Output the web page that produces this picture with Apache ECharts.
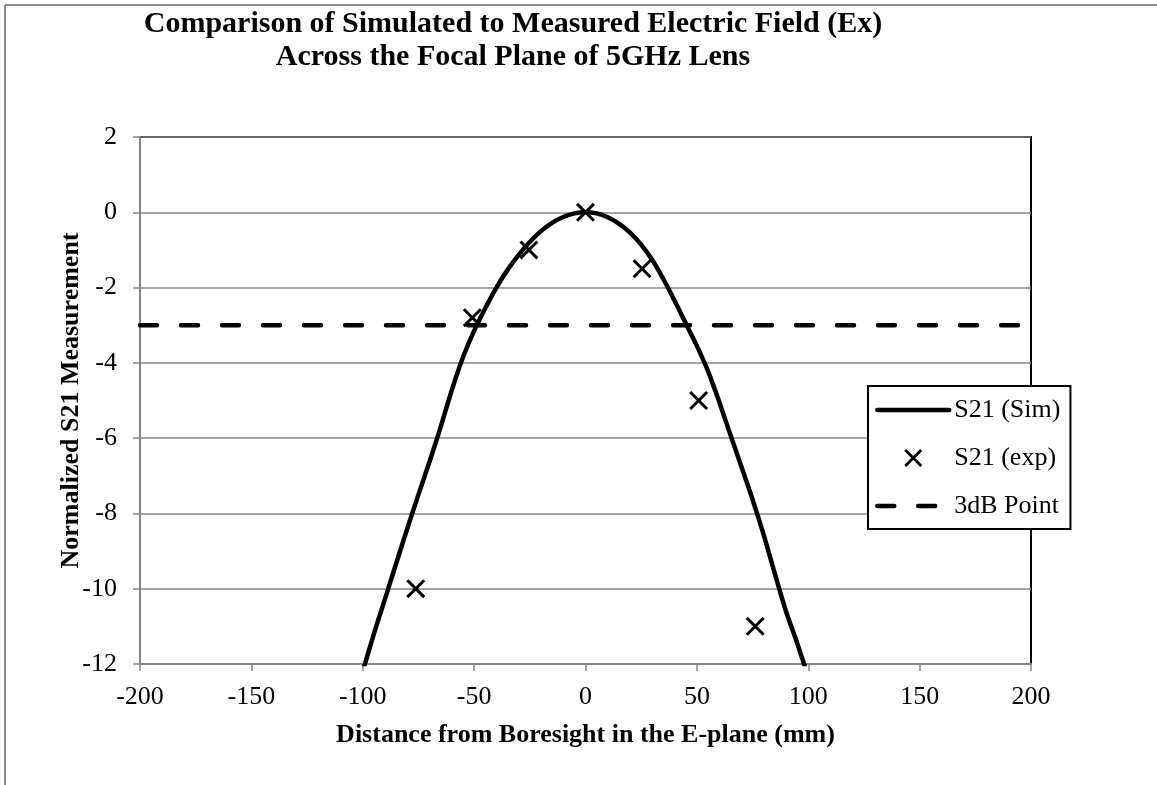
<!DOCTYPE html>
<html>
<head>
<meta charset="utf-8">
<script src="https://cdn.jsdelivr.net/npm/echarts@6/dist/echarts.min.js"></script>
<style>
html,body{margin:0;padding:0;background:#fff;}
#chart{width:1157px;height:785px;}
</style>
</head>
<body>
<div id="chart"></div>
<script>
// ---- data ----
var simX = [-100,-95,-90,-85,-80,-75,-70,-65,-60,-55,-50,-45,-40,-35,-30,-25,-20,-15,-10,-5,0,5,10,15,20,25,30,35,40,45,50,55,60,65,70,75,80,85,90,95,100];
var simY = [-12.2,-11.2,-10.27,-9.33,-8.4,-7.5,-6.62,-5.7,-4.72,-3.85,-3.15,-2.55,-2.0,-1.53,-1.13,-0.79,-0.5,-0.28,-0.125,-0.03,0,-0.03,-0.13,-0.3,-0.54,-0.86,-1.27,-1.78,-2.35,-2.95,-3.55,-4.22,-5.03,-5.9,-6.76,-7.63,-8.57,-9.6,-10.6,-11.44,-12.35];
var expX = [-76.2,-50.8,-25.4,0,25.4,50.8,76.2];
var expY = [-10,-2.8,-1,0,-1.5,-5,-11];
var refX = [-200,200];
var refY = [-3,-3];
var xTicks = {min:-200, max:200, interval:50};
var yTicks = {min:-12, max:2, interval:2};
var seriesNames = ['S21 (Sim)','S21 (exp)','3dB Point'];
var titleLines = ['Comparison of Simulated to Measured Electric Field (Ex)','Across the Focal Plane of 5GHz Lens'];
var xName = 'Distance from Boresight in the E-plane (mm)';
var yName = 'Normalized S21 Measurement';

function zip(a,b){return a.map(function(v,i){return [v,b[i]];});}

var FONT = 'Liberation Serif';
var GRAY = '#868686';
var XPATH = 'path://M0,1.1L1.1,0L10,8.9L8.9,10Z M1.1,10L0,8.9L8.9,0L10,1.1Z';

var chart = echarts.init(document.getElementById('chart'), null, {renderer:'canvas'});
chart.setOption({
  animation:false,
  backgroundColor:'#fff',
  graphic:[
    {type:'line', shape:{x1:5,y1:5,x2:1157,y2:5}, style:{stroke:'#8c8c8c', lineWidth:2}},
    {type:'line', shape:{x1:5,y1:5,x2:5,y2:785}, style:{stroke:'#8c8c8c', lineWidth:2}},
    {type:'text', x:513, y:9, style:{text:titleLines[0], font:'bold 30px "Liberation Serif"', textAlign:'center', fill:'#000'}},
    {type:'text', x:513, y:42, style:{text:titleLines[1], font:'bold 30px "Liberation Serif"', textAlign:'center', fill:'#000'}}
  ],
  grid:{left:140, top:137, width:891, height:527, show:true, borderColor:'#000', borderWidth:2, backgroundColor:'transparent'},
  legend:{
    orient:'vertical', left:868, top:386,
    itemWidth:72, itemHeight:18, itemGap:22,
    padding:[11,10,10,7],
    borderColor:'#000', borderWidth:2, backgroundColor:'#fff',
    textStyle:{fontFamily:FONT, fontSize:26, color:'#000'},
    lineStyle:{width:4.5, type:'inherit', color:'#000', cap:'round'},
    data:seriesNames
  },
  xAxis:{
    type:'value', min:xTicks.min, max:xTicks.max, interval:xTicks.interval,
    name:xName, nameLocation:'middle', nameGap:58,
    nameTextStyle:{fontFamily:FONT, fontSize:26, fontWeight:'bold', color:'#000'},
    axisLine:{show:true, onZero:false, lineStyle:{color:GRAY, width:2}},
    axisTick:{show:true, inside:false, length:7, lineStyle:{color:GRAY, width:1.5}},
    axisLabel:{fontFamily:FONT, fontSize:26, color:'#000', margin:20},
    splitLine:{show:false}
  },
  yAxis:{
    type:'value', min:yTicks.min, max:yTicks.max, interval:yTicks.interval,
    name:yName, nameLocation:'middle', nameGap:56, nameRotate:90, nameMoveOverlap:false,
    nameTextStyle:{fontFamily:FONT, fontSize:26, fontWeight:'bold', color:'#000'},
    axisLine:{show:true, onZero:false, lineStyle:{color:GRAY, width:2}},
    axisTick:{show:true, inside:false, length:7, lineStyle:{color:GRAY, width:1.5}},
    axisLabel:{fontFamily:FONT, fontSize:26, color:'#000', margin:23},
    splitLine:{show:true, lineStyle:{color:GRAY, width:1.5}}
  },
  series:[
    {name:seriesNames[0], type:'line', data:zip(simX,simY), symbol:'circle', showSymbol:false, smooth:0.3, clip:true,
     lineStyle:{color:'#000', width:4.5}, itemStyle:{color:'rgba(0,0,0,0)'}, z:3},
    {name:seriesNames[1], type:'scatter', data:zip(expX,expY), symbol:XPATH, symbolSize:19,
     itemStyle:{color:'#000', opacity:1}, z:4},
    {name:seriesNames[2], type:'line', data:zip(refX,refY), symbol:'circle', showSymbol:false,
     lineStyle:{color:'#000', width:4.5, type:[17,24], cap:'round'}, itemStyle:{color:'rgba(0,0,0,0)'}, z:2}
  ]
});
</script>
</body>
</html>
